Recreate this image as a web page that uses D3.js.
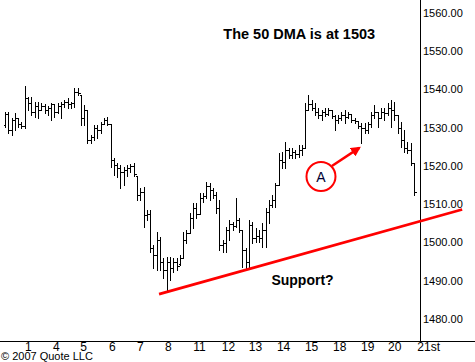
<!DOCTYPE html>
<html>
<head>
<meta charset="utf-8">
<script src="https://cdn.jsdelivr.net/npm/d3@7"></script>
<style>
  body { margin: 0; background: #fff; }
  svg { display: block; font-family: Arial, "Liberation Sans", sans-serif; }
</style>
</head>
<body>
<div id="chart"></div>
<script>
// hourly-ish OHLC bars
const opens = [1530.7,1533.5,1529.4,1532.0,1532.5,1530.9,1530.4,1537.7,1536.4,1534.1,1535.6,1534.6,1535.6,1534.6,1535.1,1536.2,1534.1,1535.6,1536.2,1536.7,
  1536.2,1536.4,1539.3,1538.5,1532.5,1534.6,1526.7,1527.5,1529.9,1529.4,1530.9,1532.0,1530.9,1521.5,1520.2,1519.4,1518.4,1518.9,1519.4,1520.0,
  1517.3,1512.4,1513.2,1507.2,1507.4,1498.6,1496.7,1500.6,1494.9,1492.8,1494.9,1493.3,1494.9,1494.4,1495.9,1500.6,1502.5,1506.4,1509.0,1507.4,
  1511.6,1512.1,1514.7,1513.7,1512.4,1509.0,1499.3,1499.9,1503.3,1504.8,1504.3,1505.9,1503.3,1498.0,1494.9,1504.6,1501.2,1501.7,1501.2,1503.3,
  1507.9,1509.8,1511.1,1515.0,1521.5,1521.0,1524.1,1522.8,1523.6,1523.1,1524.1,1524.7,1534.6,1536.2,1535.1,1534.1,1533.3,1534.1,1533.5,1534.6,
  1533.0,1532.0,1532.5,1533.3,1532.7,1533.5,1532.0,1531.7,1530.4,1529.9,1529.4,1530.9,1533.3,1534.1,1532.5,1534.1,1533.8,1535.1,1534.6,1533.3,
  1529.9,1526.7,1524.7,1524.1,1520.7];
const highs = [1534.1,1534.1,1532.5,1533.8,1532.5,1531.4,1540.9,1538.0,1538.0,1536.7,1536.7,1536.4,1536.2,1535.6,1536.4,1536.2,1536.4,1536.7,1537.2,1537.7,
  1536.7,1540.3,1540.3,1538.5,1535.9,1534.6,1528.1,1530.7,1530.7,1531.4,1532.5,1532.7,1530.9,1522.0,1520.7,1520.2,1519.7,1520.2,1520.5,1520.7,
  1517.3,1514.2,1514.5,1508.5,1508.5,1499.3,1502.7,1501.4,1495.9,1496.2,1496.2,1495.9,1495.9,1496.7,1502.7,1503.3,1507.7,1510.3,1510.3,1512.9,
  1512.9,1515.8,1515.5,1514.2,1513.2,1511.1,1500.6,1504.0,1505.9,1505.3,1511.6,1506.4,1503.3,1498.6,1505.9,1505.3,1503.8,1503.3,1505.1,1509.0,
  1511.1,1512.4,1515.5,1523.4,1523.6,1526.2,1524.7,1524.7,1524.1,1525.4,1525.4,1536.4,1538.5,1537.2,1536.4,1535.1,1534.6,1535.1,1535.1,1534.6,
  1533.3,1533.3,1534.1,1534.6,1534.1,1533.5,1532.5,1531.7,1531.2,1531.2,1531.4,1534.1,1535.9,1534.1,1535.1,1535.1,1536.4,1537.2,1536.7,1533.3,
  1531.4,1529.4,1526.2,1526.0,1520.7];
const lows = [1530.1,1528.6,1528.1,1529.4,1530.1,1529.9,1529.9,1534.6,1533.3,1532.7,1532.5,1534.6,1533.8,1533.3,1532.0,1532.7,1533.8,1532.5,1535.4,1535.1,
  1535.1,1535.4,1538.5,1530.7,1530.7,1526.0,1526.0,1526.7,1527.3,1528.6,1530.9,1530.7,1519.7,1517.6,1517.1,1514.2,1515.0,1517.3,1518.4,1517.3,
  1511.1,1511.1,1504.0,1505.9,1497.5,1493.3,1492.8,1492.8,1490.7,1487.3,1490.2,1492.3,1492.8,1494.1,1495.9,1499.9,1502.5,1503.8,1506.4,1507.4,
  1510.6,1511.6,1511.1,1511.6,1507.7,1498.0,1497.5,1497.5,1500.6,1503.3,1504.0,1502.7,1493.6,1493.3,1493.3,1499.9,1500.1,1500.1,1498.8,1498.8,
  1505.1,1509.3,1509.3,1515.0,1519.4,1519.4,1522.0,1522.0,1522.0,1522.3,1522.8,1524.7,1534.6,1534.6,1533.3,1532.5,1532.0,1533.0,1533.3,1532.5,
  1529.4,1531.2,1532.0,1531.2,1532.5,1531.4,1531.2,1529.9,1526.0,1528.6,1528.6,1530.1,1532.5,1530.1,1532.5,1532.0,1533.3,1530.1,1532.0,1528.6,
  1524.9,1523.6,1523.4,1520.2,1512.4];
const closes = [1533.5,1529.4,1532.0,1532.5,1530.9,1530.4,1537.7,1536.4,1534.1,1535.6,1534.6,1535.6,1534.6,1535.1,1536.2,1534.1,1535.6,1536.2,1536.7,1536.2,
  1536.4,1539.3,1539.0,1532.5,1534.6,1526.7,1527.5,1529.9,1529.4,1530.9,1532.0,1530.9,1521.5,1520.2,1519.4,1518.4,1518.9,1519.4,1520.0,1517.9,
  1512.4,1513.2,1507.2,1507.4,1498.6,1496.7,1500.6,1494.9,1492.8,1494.9,1493.3,1494.9,1493.9,1495.9,1500.6,1502.5,1506.4,1509.0,1507.4,1511.6,
  1512.1,1514.7,1513.7,1512.4,1509.0,1499.3,1499.9,1503.3,1504.8,1504.3,1505.9,1503.3,1498.0,1494.9,1504.6,1501.2,1501.7,1501.2,1503.3,1507.9,
  1509.8,1511.1,1515.0,1521.5,1521.0,1524.1,1522.8,1523.6,1523.1,1524.1,1524.7,1534.6,1536.2,1535.1,1534.1,1533.3,1534.1,1533.5,1534.6,1533.0,
  1532.0,1532.5,1533.3,1532.7,1533.5,1532.0,1531.7,1530.4,1529.9,1529.4,1530.9,1533.3,1534.1,1532.5,1534.1,1533.8,1535.1,1534.6,1533.3,1529.9,
  1526.7,1524.7,1524.1,1520.7,1513.2];

const dayLabels = ["1","4","5","6","7","8","11","12","13","14","15","18","19","20","21st"];
const dayPos = [6.9,15.4,23.7,32.4,40.9,49.4,58.8,67.6,75.8,84.3,92.8,101.3,109.8,118.0,128.3]; // in bar index units
const priceTicks = [1480,1490,1500,1510,1520,1530,1540,1550,1560];

// support line end points [bar index, price]
const supportLine = [[46.7,1486.5],[138.6,1508.6]];

const width = 475, height = 362;
const axisX = 420, axisY = 341;

const bars = opens.map((o, i) => ({i: i, o: o, h: highs[i], l: lows[i], c: closes[i]}));

const svg = d3.select("#chart")
  .append("svg")
  .attr("width", width)
  .attr("height", height);

let x = d3.scaleLinear()
  .domain([0, bars.length - 1])
  .range([5, 414]);

let y = d3.scaleLinear()
  .domain([1480, 1560])
  .range([319, 12.7]);

const px = v => Math.round(v) + 0.5;

// price axis on the right
svg.append("g")
  .attr("transform", `translate(${axisX},0)`)
  .call(d3.axisRight(y)
    .tickValues(priceTicks)
    .tickFormat(d3.format(".2f"))
    .tickSize(0)
    .tickPadding(3))
  .call(g => g.select(".domain").remove())
  .selectAll("text")
  .attr("font-size", 11)
  .attr("font-family", "Arial, 'Liberation Sans', sans-serif")
  .attr("fill", "#000");

// day axis
svg.append("g")
  .attr("transform", `translate(0,${axisY})`)
  .call(d3.axisBottom(x)
    .tickValues(dayPos)
    .tickFormat((d, i) => dayLabels[i])
    .tickSize(0)
    .tickPadding(1.5))
  .call(g => g.select(".domain").remove())
  .selectAll("text")
  .attr("font-size", 12)
  .attr("font-family", "Arial, 'Liberation Sans', sans-serif")
  .attr("fill", "#000");

svg.append("line")
  .attr("x1", 0).attr("x2", width)
  .attr("y1", axisY + 0.5).attr("y2", axisY + 0.5)
  .attr("stroke", "#000");

svg.append("line")
  .attr("x1", axisX + 0.5).attr("x2", axisX + 0.5)
  .attr("y1", 0).attr("y2", axisY)
  .attr("stroke", "#000");

// OHLC bars
let bar = svg.append("g")
  .attr("stroke", "#000")
  .attr("stroke-width", 1)
  .attr("shape-rendering", "crispEdges")
  .selectAll("g")
  .data(bars)
  .join("g");

bar.append("line")
  .attr("x1", d => px(x(d.i))).attr("x2", d => px(x(d.i)))
  .attr("y1", d => Math.round(y(d.h))).attr("y2", d => Math.round(y(d.l)) + 1);

bar.append("line")
  .attr("x1", d => px(x(d.i)) - 2).attr("x2", d => px(x(d.i)))
  .attr("y1", d => px(y(d.o))).attr("y2", d => px(y(d.o)));

bar.append("line")
  .attr("x1", d => px(x(d.i))).attr("x2", d => px(x(d.i)) + 2)
  .attr("y1", d => px(y(d.c))).attr("y2", d => px(y(d.c)));

// support trend line
svg.append("path")
  .datum(supportLine)
  .attr("d", d3.line().x(d => x(d[0])).y(d => y(d[1])))
  .attr("fill", "none")
  .attr("stroke", "#ff0000")
  .attr("stroke-width", 2.8);

// annotations
svg.append("text")
  .attr("x", x(89.2))
  .attr("y", y(1553.1))
  .attr("text-anchor", "middle")
  .attr("font-size", 14.5)
  .attr("font-weight", "bold")
  .attr("fill", "#000")
  .text("The 50 DMA is at 1503");

svg.append("text")
  .attr("x", x(90.2))
  .attr("y", y(1488.9))
  .attr("text-anchor", "middle")
  .attr("font-size", 14)
  .attr("font-weight", "bold")
  .attr("fill", "#000")
  .text("Support?");

svg.append("circle")
  .attr("cx", x(95.8))
  .attr("cy", y(1517.2))
  .attr("r", 14.5)
  .attr("fill", "none")
  .attr("stroke", "#ff0000")
  .attr("stroke-width", 2);

svg.append("text")
  .attr("x", x(95.8))
  .attr("y", y(1517.2))
  .attr("dy", "0.36em")
  .attr("text-anchor", "middle")
  .attr("font-size", 14)
  .attr("fill", "#000033")
  .text("A");

svg.append("defs").append("marker")
  .attr("id", "head")
  .attr("viewBox", "0 0 10 10")
  .attr("refX", 8).attr("refY", 5)
  .attr("markerWidth", 4).attr("markerHeight", 4)
  .attr("orient", "auto")
  .append("path")
  .attr("d", "M0,0L10,5L0,10z")
  .attr("fill", "#ff0000");

svg.append("line")
  .attr("x1", x(99.1)).attr("y1", y(1519.96))
  .attr("x2", x(107.4)).attr("y2", y(1524.7))
  .attr("stroke", "#ff0000")
  .attr("stroke-width", 2.5)
  .attr("marker-end", "url(#head)");

svg.append("text")
  .attr("x", 1)
  .attr("y", 359.5)
  .attr("font-size", 11)
  .attr("fill", "#000")
  .text("\u00a9 2007 Quote LLC");
</script>
</body>
</html>
